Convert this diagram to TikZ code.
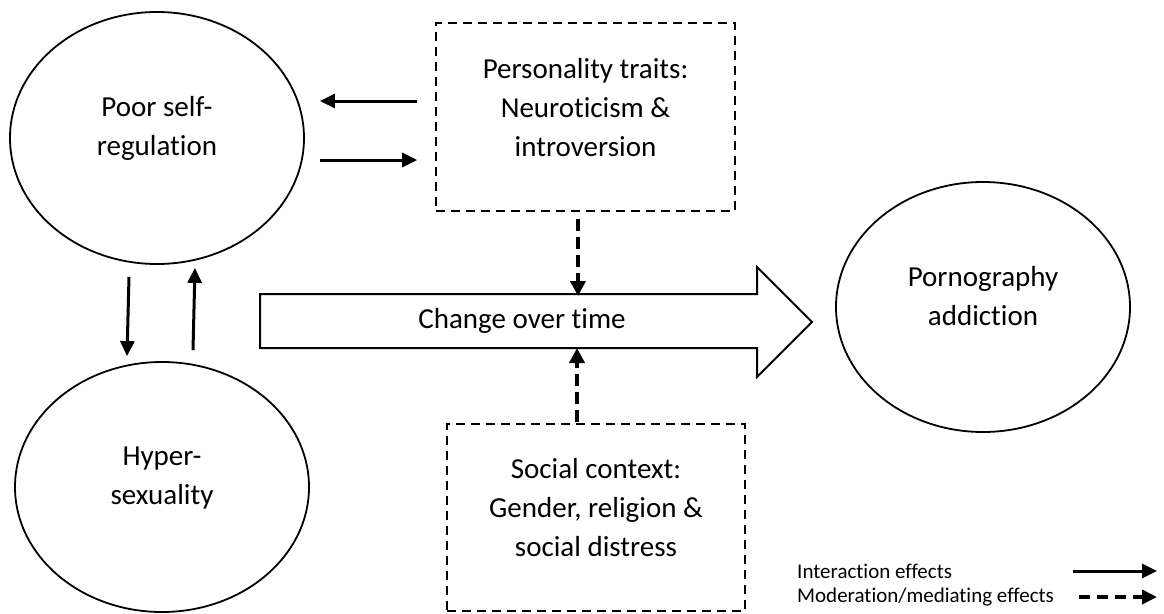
\documentclass[tikz,border=0pt]{standalone}
\usepackage{fontspec}
\setmainfont{Carlito}[Ligatures={NoCommon}]
\usetikzlibrary{shapes.geometric,arrows.meta}
\begin{document}
\begin{tikzpicture}[x=1pt,y=-1pt,
 ell/.style={draw,line width=1.8pt,ellipse,minimum width=294pt,minimum height=252pt,inner sep=0pt},
 dbox/.style={draw,line width=1.6pt,dash pattern=on 9pt off 6pt,rectangle,inner sep=0pt},
 txt/.style={font=\fontsize{29}{39}\selectfont,align=center,inner sep=0pt},
 sol/.style={line width=3pt,-{Triangle[length=15pt,width=14pt]}},
 dsh/.style={line width=4pt,dash pattern=on 12pt off 6pt,-{Triangle[length=15pt,width=15pt]}},
 legsol/.style={line width=3pt,-{Triangle[length=15pt,width=14pt]}},
 legdsh/.style={line width=3.5pt,dash pattern=on 11pt off 7pt,-{Triangle[length=15pt,width=14pt]}},
 leg/.style={font=\fontsize{21}{26}\selectfont,anchor=west,inner sep=0pt}]
\useasboundingbox (0,0) rectangle (1164,613);

% ellipses
\node[ell] (psr) at (157,138) {};
\node[txt] (psrt) at (157,128) {Poor self-\\regulation};
\node[ell,minimum height=250pt] (hs) at (162,487) {};
\node[txt] (hst) at (162,478) {Hyper-\\sexuality};
\node[ell,minimum height=250pt] (pa) at (983,307) {};
\node[txt] (pat) at (983,296) {Pornography\\addiction};

% dashed boxes
\node[dbox,minimum width=299pt,minimum height=188pt] (pbox) at (585.5,117) {};
\node[txt] (pboxt) at (585.5,108) {Personality traits:\\Neuroticism \&\\introversion};
\node[dbox,minimum width=298pt,minimum height=187pt] (sbox) at (596,517.5) {};
\node[txt] (sboxt) at (596,508) {Social context:\\Gender, religion \&\\social distress};

% big arrow
\draw[line width=2pt,line join=miter] (260,294) -- (757,294) -- (757,267) -- (812,322) -- (757,377) -- (757,348) -- (260,348) -- cycle;
\node[txt] (cot) at (522,321) {Change over time};
\coordinate (bodytop) at (578,296);
\coordinate (bodybot) at (577,348);

% interaction arrows
\draw[sol] ([shift={(-18,-16)}]pbox.west) -- ([shift={(15,-37)}]psr.east);
\draw[sol] ([shift={(15,22)}]psr.east) -- ([shift={(-18,43)}]pbox.west);
\draw[sol] ([shift={(-28,12)}]psr.south) -- ([shift={(-35,-5)}]hs.north);
\draw[sol] ([shift={(31,-11)}]hs.north) -- ([shift={(38,3)}]psr.south);

% moderation arrows
\draw[dsh] ([shift={(-7.5,7)}]pbox.south) -- (bodytop);
\draw[dsh] ([shift={(-19,-1)}]sbox.north) -- (bodybot);

% legend
\node[leg] (l1) at (797,571) {Interaction effects};
\node[leg] (l2) at (797,597) {Moderation/mediating effects};
\coordinate (l1a) at (1073,571);
\coordinate (l1b) at (1157,571);
\coordinate (l2a) at (1079,597);
\coordinate (l2b) at (1157,597);
\draw[legsol] (l1a) -- (l1b);
\draw[legdsh] (l2a) -- (l2b);
\end{tikzpicture}
\end{document}
